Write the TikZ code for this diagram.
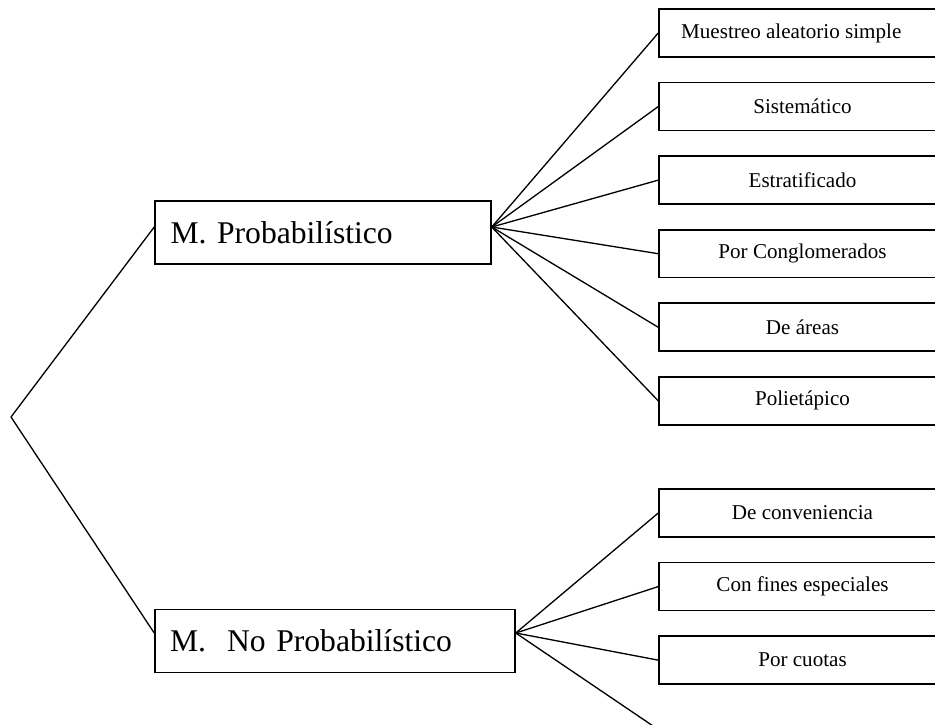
\documentclass[tikz,border=0pt]{standalone}
\usepackage{fontspec}
\setmainfont{Liberation Serif}
\usetikzlibrary{positioning,calc}

\tikzset{
  big/.style={draw, rectangle, line width=0.9pt, minimum height=1.26cm, text width=6.1cm, align=left, font=\fontsize{18}{20}\selectfont},
  leaf/.style={draw, rectangle, line width=0.9pt, minimum width=5.74cm, minimum height=0.96cm, font=\fontsize{12}{14}\selectfont}
}

\begin{document}
\begin{tikzpicture}[x=0.02cm, y=-0.02cm, line width=0.75pt]
    \clip (0,0) rectangle (935,724);
    \coordinate (root) at (11,417);
    \node[big, minimum width=6.72cm] (prob) at (323,232.5) {M.\ Probabilístico};
    \node[big, minimum width=7.2cm, text width=6.6cm] (noprob) at (335,641) {M.\ \ No Probabilístico};
    \coordinate (prob-in) at ([yshift=0.11cm]prob.west);
    \coordinate (prob-out) at ([yshift=0.11cm]prob.east);
    \coordinate (noprob-in) at ([yshift=0.16cm]noprob.west);
    \coordinate (noprob-out) at ([yshift=0.16cm]noprob.east);
    % ramas probabilisticas
    \node[leaf] (mas)  at (802.5,33)  {\hspace*{-0.45cm}Muestreo aleatorio simple};
    \node[leaf] (sis)  [below=0.48cm of mas] {Sistemático};
    \node[leaf] (est)  [below=0.48cm of sis] {Estratificado};
    \node[leaf] (cong) [below=0.48cm of est] {Por Conglomerados};
    \node[leaf] (area) [below=0.48cm of cong] {De áreas};
    \node[leaf] (poli) [below=0.48cm of area] {Polietápico};
    % ramas no probabilisticas
    \node[leaf] (conv) at (802.5,513) {De conveniencia};
    \node[leaf] (fines) [below=0.48cm of conv] {Con fines especiales};
    \node[leaf] (cuot) [below=0.48cm of fines] {Por cuotas};
    \coordinate (otro) at (659,730);
    \path[draw]
    (root) edge (prob-in)
    (root) edge (noprob-in);
    \path[draw]
    (prob-out) edge (mas.west)
    (prob-out) edge (sis.west)
    (prob-out) edge (est.west)
    (prob-out) edge (cong.west)
    (prob-out) edge (area.west)
    (prob-out) edge (poli.west);
    \path[draw]
    (noprob-out) edge (conv.west)
    (noprob-out) edge (fines.west)
    (noprob-out) edge (cuot.west)
    (noprob-out) edge (otro);
\end{tikzpicture}
\end{document}
